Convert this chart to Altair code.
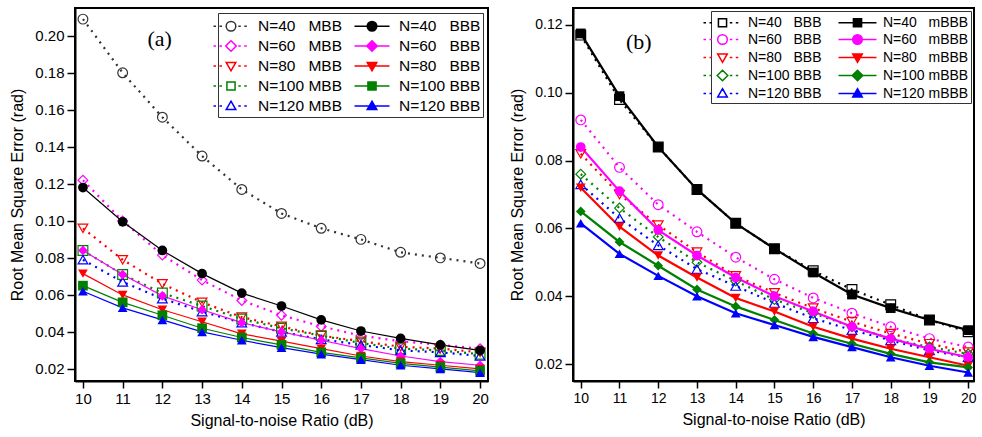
import altair as alt
import pandas as pd

snr = [10, 11, 12, 13, 14, 15, 16, 17, 18, 19, 20]

# ---- panel (a) ----
a_mbb_40 = [0.209, 0.180, 0.156, 0.135, 0.117, 0.104, 0.096, 0.090, 0.083, 0.080, 0.077]
a_bbb_40 = [0.118, 0.0995, 0.084, 0.0715, 0.061, 0.054, 0.0465, 0.0405, 0.0365, 0.033, 0.030]
a_mbb_60 = [0.122, 0.100, 0.0815, 0.068, 0.057, 0.049, 0.043, 0.038, 0.035, 0.033, 0.031]
a_bbb_60 = [0.084, 0.071, 0.0595, 0.052, 0.045, 0.040, 0.0355, 0.031, 0.027, 0.024, 0.022]
a_mbb_80 = [0.096, 0.079, 0.066, 0.056, 0.048, 0.043, 0.038, 0.035, 0.032, 0.031, 0.029]
a_bbb_80 = [0.0715, 0.060, 0.052, 0.0455, 0.039, 0.035, 0.031, 0.027, 0.024, 0.022, 0.020]
a_mbb_100 = [0.084, 0.071, 0.061, 0.054, 0.047, 0.042, 0.038, 0.034, 0.031, 0.030, 0.028]
a_bbb_100 = [0.065, 0.056, 0.049, 0.042, 0.037, 0.033, 0.029, 0.026, 0.023, 0.021, 0.019]
a_mbb_120 = [0.079, 0.067, 0.058, 0.051, 0.045, 0.040, 0.036, 0.033, 0.030, 0.029, 0.027]
a_bbb_120 = [0.062, 0.053, 0.0465, 0.040, 0.0355, 0.0315, 0.028, 0.025, 0.022, 0.020, 0.018]

# ---- panel (b) ----
b_bbb_40 = [0.117, 0.098, 0.084, 0.0715, 0.0615, 0.054, 0.0475, 0.042, 0.0375, 0.033, 0.0295]
b_mbbb_40 = [0.1175, 0.099, 0.084, 0.0715, 0.0615, 0.054, 0.047, 0.0405, 0.0365, 0.033, 0.030]
b_bbb_60 = [0.092, 0.078, 0.067, 0.059, 0.0515, 0.045, 0.0395, 0.035, 0.031, 0.0275, 0.025]
b_mbbb_60 = [0.084, 0.071, 0.0595, 0.052, 0.0455, 0.040, 0.0355, 0.031, 0.0275, 0.0245, 0.022]
b_bbb_80 = [0.082, 0.070, 0.061, 0.053, 0.046, 0.041, 0.0365, 0.0325, 0.029, 0.026, 0.0235]
b_mbbb_80 = [0.072, 0.0605, 0.052, 0.0455, 0.0395, 0.0355, 0.031, 0.0275, 0.0245, 0.022, 0.0195]
b_bbb_100 = [0.076, 0.066, 0.0575, 0.050, 0.0445, 0.039, 0.035, 0.031, 0.0275, 0.025, 0.023]
b_mbbb_100 = [0.065, 0.056, 0.049, 0.042, 0.037, 0.033, 0.029, 0.026, 0.023, 0.0205, 0.019]
b_bbb_120 = [0.073, 0.063, 0.055, 0.048, 0.043, 0.038, 0.0335, 0.030, 0.027, 0.024, 0.022]
b_mbbb_120 = [0.0615, 0.0525, 0.046, 0.040, 0.035, 0.0315, 0.028, 0.025, 0.022, 0.0195, 0.0175]

NB = "\u00a0"
# order: open/dotted series first (legend column 1), then solid/filled (column 2)
a_labels = [f"N=40{NB*3}MBB", f"N=60{NB*3}MBB", f"N=80{NB*3}MBB", f"N=100{NB}MBB", f"N=120{NB}MBB",
            f"N=40{NB*3}BBB", f"N=60{NB*3}BBB", f"N=80{NB*3}BBB", f"N=100{NB}BBB", f"N=120{NB}BBB"]
a_values = [a_mbb_40, a_mbb_60, a_mbb_80, a_mbb_100, a_mbb_120,
            a_bbb_40, a_bbb_60, a_bbb_80, a_bbb_100, a_bbb_120]
b_labels = [f"N=40{NB*3}BBB", f"N=60{NB*3}BBB", f"N=80{NB*3}BBB", f"N=100{NB}BBB", f"N=120{NB}BBB",
            f"N=40{NB*3}mBBB", f"N=60{NB*3}mBBB", f"N=80{NB*3}mBBB", f"N=100{NB}mBBB", f"N=120{NB}mBBB"]
b_values = [b_bbb_40, b_bbb_60, b_bbb_80, b_bbb_100, b_bbb_120,
            b_mbbb_40, b_mbbb_60, b_mbbb_80, b_mbbb_100, b_mbbb_120]

a_colors = ["#333333", "#ff00ff", "#ff0000", "#008000", "#0000ff",
            "#000000", "#ff00ff", "#ff0000", "#008000", "#0000ff"]
b_colors = ["#000000", "#ff00ff", "#ff0000", "#008000", "#0000ff",
            "#000000", "#ff00ff", "#ff0000", "#008000", "#0000ff"]
a_shapes = ["circle", "diamond", "triangle-down", "square", "triangle-up"] * 2
b_shapes = ["square", "circle", "triangle-down", "diamond", "triangle-up"] * 2
hollow_flags = [True] * 5 + [False] * 5

x_ticks = [10 + 0.5 * i for i in range(21)]
a_y_ticks = [0.02, 0.03, 0.04, 0.05, 0.06, 0.07, 0.08, 0.09, 0.10, 0.11, 0.12,
             0.13, 0.14, 0.15, 0.16, 0.17, 0.18, 0.19, 0.20, 0.21]
b_y_ticks = [0.02, 0.03, 0.04, 0.05, 0.06, 0.07, 0.08, 0.09, 0.10, 0.11, 0.12]

FONT = "Liberation Sans"


# ---------- legend symbol paths (line + marker), unit = sqrt(symbolSize)/2 px ----------
def marker(kind, r):
    if kind == "circle":
        return f"M{r:.3f},0A{r:.3f},{r:.3f} 0 1,1 {-r:.3f},0A{r:.3f},{r:.3f} 0 1,1 {r:.3f},0Z"
    if kind == "square":
        s = r * 0.85
        return f"M{-s:.3f},{-s:.3f}L{s:.3f},{-s:.3f}L{s:.3f},{s:.3f}L{-s:.3f},{s:.3f}Z"
    if kind == "diamond":
        s = r * 1.1
        return f"M0,{-s:.3f}L{s:.3f},0L0,{s:.3f}L{-s:.3f},0Z"
    if kind == "triangle-up":
        return f"M0,{-r:.3f}L{r:.3f},{r*0.75:.3f}L{-r:.3f},{r*0.75:.3f}Z"
    return f"M0,{r:.3f}L{r:.3f},{-r*0.75:.3f}L{-r:.3f},{-r*0.75:.3f}Z"


def dotted(x0, x1, dash, gap):
    out, x = [], x0
    while x < x1 - 1e-9:
        e = min(x + dash, x1)
        out.append(f"M{x:.3f},0L{e:.3f},0")
        x = e + gap
    return "".join(out)


def legend_path(kind, hollow, unit, half_px, r_px=4.8):
    L = half_px / unit
    r = r_px / unit
    if hollow:
        g = (r_px + 2.5) / unit
        return dotted(-L, -g, 2.5 / unit, 3.5 / unit) + dotted(g, L, 2.5 / unit, 3.5 / unit) + marker(kind, r)
    return f"M{-L:.3f},0L{L:.3f},0" + marker(kind, r)


def panel(tag, labels, values, colors, shapes, ydom, yticks, width, xdom,
          lab_size, sym_size, lab_off, solid_w, text_pos, leg_font, col_pad,
          half_px, leg_offset):
    rows = []
    for lab, vals, hol in zip(labels, values, hollow_flags):
        for s, v in zip(snr, vals):
            rows.append({"snr": s, "rmse": v, "series": lab, "hollow": hol})
    df = pd.DataFrame(rows)

    xenc = alt.X("snr:Q", scale=alt.Scale(domain=xdom, nice=False, zero=False),
                 axis=alt.Axis(values=x_ticks, format=".0f",
                               labelExpr="datum.value % 1 == 0 ? datum.label : ''",
                               tickSize={"condition": {"test": "datum.value % 1 == 0", "value": 7}, "value": 4},
                               title="Signal-to-noise Ratio (dB)", labelFontSize=lab_size,
                               labelPadding=3, titlePadding=6))
    yenc = alt.Y("rmse:Q", scale=alt.Scale(domain=ydom, nice=False, zero=False),
                 axis=alt.Axis(values=yticks, format=".2f",
                               labelExpr="round(datum.value * 100) % 2 == 0 ? datum.label : ''",
                               tickSize={"condition": {"test": "round(datum.value * 100) % 2 == 0", "value": 8}, "value": 4},
                               title="Root Mean Square Error (rad)", labelFontSize=lab_size,
                               labelPadding=3, titlePadding=9))
    cscale = alt.Scale(domain=labels, range=colors)
    sscale = alt.Scale(domain=labels, range=shapes)
    base = alt.Chart(df)

    dot_lines = base.transform_filter("datum.hollow").mark_line(
        strokeDash=[2, 5], strokeWidth=2.2, strokeCap="butt"
    ).encode(x=xenc, y=yenc, detail="series:N",
             color=alt.Color("series:N", scale=cscale, legend=None))
    solid_lines = base.transform_filter("!datum.hollow").mark_line(
        strokeWidth=solid_w
    ).encode(x=xenc, y=yenc, detail="series:N",
             color=alt.Color("series:N", scale=cscale, legend=None))
    hollow_pts = base.transform_filter("datum.hollow").mark_point(
        filled=False, size=95, strokeWidth=1.2, opacity=1
    ).encode(x=xenc, y=yenc,
             color=alt.Color("series:N", scale=cscale, legend=None),
             shape=alt.Shape("series:N", scale=sscale, legend=None))
    filled_pts = base.transform_filter("!datum.hollow").mark_point(
        filled=True, size=95, opacity=1
    ).encode(x=xenc, y=yenc,
             color=alt.Color("series:N", scale=cscale, legend=None),
             shape=alt.Shape("series:N", scale=sscale, legend=None))

    unit = sym_size ** 0.5 / 2
    leg = alt.Legend(title=None, orient="top-right", columns=2, offset=leg_offset,
                     labelFont=FONT, labelFontSize=leg_font, labelColor="#000",
                     symbolSize=sym_size, symbolStrokeWidth=1.5, labelOffset=lab_off,
                     rowPadding=0, columnPadding=col_pad, padding=2,
                     strokeColor="#333333", fillColor="white", labelLimit=200)
    paths = [legend_path(k, h, unit, half_px) for k, h in zip(shapes, hollow_flags)]
    fills = [("transparent" if h else c) for c, h in zip(colors, hollow_flags)]
    legend_layer = base.transform_filter("datum.snr < 0").mark_point(
        filled=False, strokeWidth=1.5, opacity=1
    ).encode(
        color=alt.Color("series:N", scale=alt.Scale(domain=labels, range=colors), legend=leg),
        shape=alt.Shape("series:N", scale=alt.Scale(domain=labels, range=paths), legend=leg),
        fill=alt.Fill("series:N", scale=alt.Scale(domain=labels, range=fills), legend=leg),
    )

    tdf = pd.DataFrame({"snr": [text_pos[0]], "rmse": [text_pos[1]], "t": [tag]})
    tag_text = alt.Chart(tdf).mark_text(font="Liberation Serif", fontSize=22,
                                        color="#000").encode(
        x=alt.X("snr:Q"), y=alt.Y("rmse:Q"), text="t:N")

    return alt.layer(dot_lines, solid_lines, hollow_pts, filled_pts, tag_text,
                     legend_layer).resolve_scale(
        color="independent", shape="independent", fill="independent"
    ).properties(width=width, height=373)


pa = panel("(a)", a_labels, a_values, a_colors, a_shapes, [0.0135, 0.215], a_y_ticks,
           413, [9.8, 20.2], 15, 400, 16, 1.2, (11.93, 0.198), 15.5, 8, 17.5, 5)
pb = panel("(b)", b_labels, b_values, b_colors, b_shapes, [0.015, 0.125], b_y_ticks,
           401, [9.8, 20.15], 14, 306, 16, 2.2, (11.5, 0.115), 14, 13, 19, 3)

chart = alt.hconcat(pa, pb, spacing=18).properties(
    padding={"left": 8, "top": 7, "right": 0, "bottom": 0}
).configure_view(stroke="#000", strokeWidth=2).configure_axis(
    labelFont=FONT, titleFont=FONT, titleFontSize=16, titleFontWeight="normal",
    labelColor="#000", titleColor="#000", domainColor="#000", domainWidth=2,
    tickColor="#000", tickWidth=1.5, grid=False
)

chart.save("out.html", embed_options={"renderer": "svg", "actions": False})
